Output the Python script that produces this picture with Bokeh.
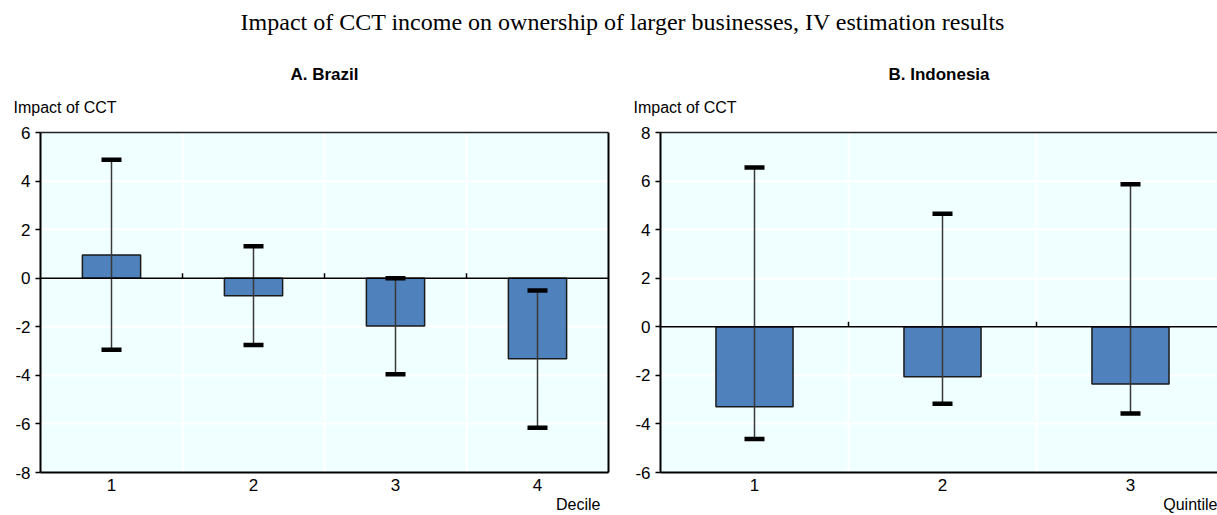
import numpy as np
from bokeh.plotting import figure
from bokeh.models import Range1d, FixedTicker, Span, Div, LinearAxis, Title
from bokeh.layouts import column, row
from bokeh.embed import file_html
from bokeh.resources import INLINE

main_title = "Impact of CCT income on ownership of larger businesses, IV estimation results"
y_label = "Impact of CCT"

brazil_title = "A. Brazil"
brazil_xlabel = "Decile"
brazil_cats = ["1", "2", "3", "4"]
brazil_vals = [0.96, -0.72, -1.97, -3.32]
brazil_upper = [4.88, 1.32, 0.0, -0.51]
brazil_lower = [-2.95, -2.75, -3.95, -6.16]
brazil_yticks = [-8, -6, -4, -2, 0, 2, 4, 6]

indo_title = "B. Indonesia"
indo_xlabel = "Quintile"
indo_cats = ["1", "2", "3"]
indo_vals = [-3.29, -2.06, -2.36]
indo_upper = [6.56, 4.65, 5.87]
indo_lower = [-4.62, -3.17, -3.57]
indo_yticks = [-6, -4, -2, 0, 2, 4, 6, 8]

SANS = "Liberation Sans"
BAR = "#4F81BD"
BG = "#F0FFFF"
FRAME_H = 340
FS = "17px"
FS_LABEL = "16px"


def panel(title, xlabel, cats, vals, upper, lower, yticks, cat_px, visible_w,
          mb_left, mb_right, full_border, xlabel_offset):
    n = len(cats)
    pos = list(np.arange(1, n + 1, dtype=float))
    bounds = [p + 0.5 for p in pos[:-1]]
    xmin = 0.5
    xmax = xmin + visible_w / cat_px
    ymin, ymax = min(yticks), max(yticks)
    ppy = FRAME_H / (ymax - ymin)

    p = figure(frame_width=visible_w, frame_height=FRAME_H,
               x_range=Range1d(xmin, xmax), y_range=Range1d(ymin, ymax),
               output_backend="svg", toolbar_location=None,
               min_border_left=mb_left, min_border_right=mb_right,
               min_border_top=84, min_border_bottom=43,
               background_fill_color=BG, border_fill_color="white")
    p.margin = (0, 0, 0, 0)

    # grid
    p.xgrid.ticker = FixedTicker(ticks=bounds)
    p.ygrid.ticker = FixedTicker(ticks=yticks)
    p.xgrid.grid_line_color = "white"
    p.ygrid.grid_line_color = "white"
    p.xgrid.grid_line_width = 2
    p.ygrid.grid_line_width = 2

    # axes
    ya = p.yaxis[0]
    ya.ticker = FixedTicker(ticks=yticks)
    ya.major_label_overrides = {t: str(t) for t in yticks}
    ya.minor_tick_line_color = None
    ya.major_tick_out = 5
    ya.major_tick_in = 0
    ya.major_tick_line_width = 1.5
    ya.axis_line_width = 2
    ya.axis_line_color = "black"
    ya.major_label_text_font = SANS
    ya.major_label_text_font_size = FS
    ya.major_label_text_color = "black"
    ya.major_label_standoff = 5

    xa = p.xaxis[0]
    xa.ticker = FixedTicker(ticks=pos)
    xa.major_label_overrides = {p_: c for p_, c in zip(pos, cats)}
    xa.minor_tick_line_color = None
    xa.major_tick_line_color = None
    xa.major_tick_out = 0
    xa.major_tick_in = 0
    xa.axis_line_width = 2
    xa.axis_line_color = "black"
    xa.major_label_text_font = SANS
    xa.major_label_text_font_size = FS
    xa.major_label_text_color = "black"
    xa.major_label_standoff = 6

    top_axis = LinearAxis(ticker=FixedTicker(ticks=[]), axis_line_width=1.5,
                          axis_line_color="#222222", major_tick_line_color=None,
                          minor_tick_line_color=None, major_tick_out=0, major_tick_in=0,
                          major_label_standoff=0, major_label_text_font_size="0px")
    p.add_layout(top_axis, "above")
    if full_border:
        right_axis = LinearAxis(ticker=FixedTicker(ticks=[]), axis_line_width=2,
                                axis_line_color="black", major_tick_line_color=None,
                                minor_tick_line_color=None, major_tick_out=0, major_tick_in=0,
                                major_label_standoff=0, major_label_text_font_size="0px")
        p.add_layout(right_axis, "right")
    p.outline_line_color = None

    # bars
    p.vbar(x=pos, top=vals, bottom=0, width=0.41, fill_color=BAR,
           line_color="#1a1a1a", line_width=1.5)
    # zero line and category ticks on it
    p.add_layout(Span(location=0, dimension="width", line_color="black", line_width=1.5))
    p.segment(x0=bounds, x1=bounds, y0=[0] * len(bounds), y1=[5 / ppy] * len(bounds),
              line_color="black", line_width=1.5)
    # error bars
    p.segment(x0=pos, x1=pos, y0=lower, y1=upper, line_color="#3a3a3a", line_width=1.5)
    p.scatter(x=pos + pos, y=list(upper) + list(lower), marker="dash", size=20,
              line_width=4.5, line_color="black")

    # texts (titles placed around the frame)
    p.add_layout(Title(text=y_label, align="left", offset=-27, vertical_align="top",
                       standoff=30, text_font=SANS, text_font_size=FS_LABEL,
                       text_font_style="normal", text_color="black"), "above")
    p.add_layout(Title(text=title, align="center", vertical_align="bottom",
                       standoff=0, text_font=SANS, text_font_size=FS,
                       text_font_style="bold", text_color="black"), "above")
    p.add_layout(Title(text=xlabel, align="right", offset=xlabel_offset,
                       vertical_align="bottom", standoff=0, text_font=SANS,
                       text_font_size=FS_LABEL, text_font_style="normal",
                       text_color="black"), "below")
    return p


p1 = panel(brazil_title, brazil_xlabel, brazil_cats, brazil_vals, brazil_upper,
           brazil_lower, brazil_yticks, cat_px=142, visible_w=568,
           mb_left=40, mb_right=12, full_border=True, xlabel_offset=8)
p2 = panel(indo_title, indo_xlabel, indo_cats, indo_vals, indo_upper,
           indo_lower, indo_yticks, cat_px=188, visible_w=557,
           mb_left=40, mb_right=0, full_border=False, xlabel_offset=0)

head = Div(text=('<div style="position:relative;left:14px;width:1217px;text-align:center;'
                 'font-family:\'Liberation Serif\';font-size:24px;line-height:44px;'
                 'color:black;white-space:nowrap;">' + main_title + '</div>'),
           width=1217, height=48, margin=(0, 0, 0, 0))

layout = column(head, row(p1, p2, margin=(0, 0, 0, 0)), margin=(0, 0, 0, 0))

open("out.html", "w").write(file_html(layout, INLINE))
